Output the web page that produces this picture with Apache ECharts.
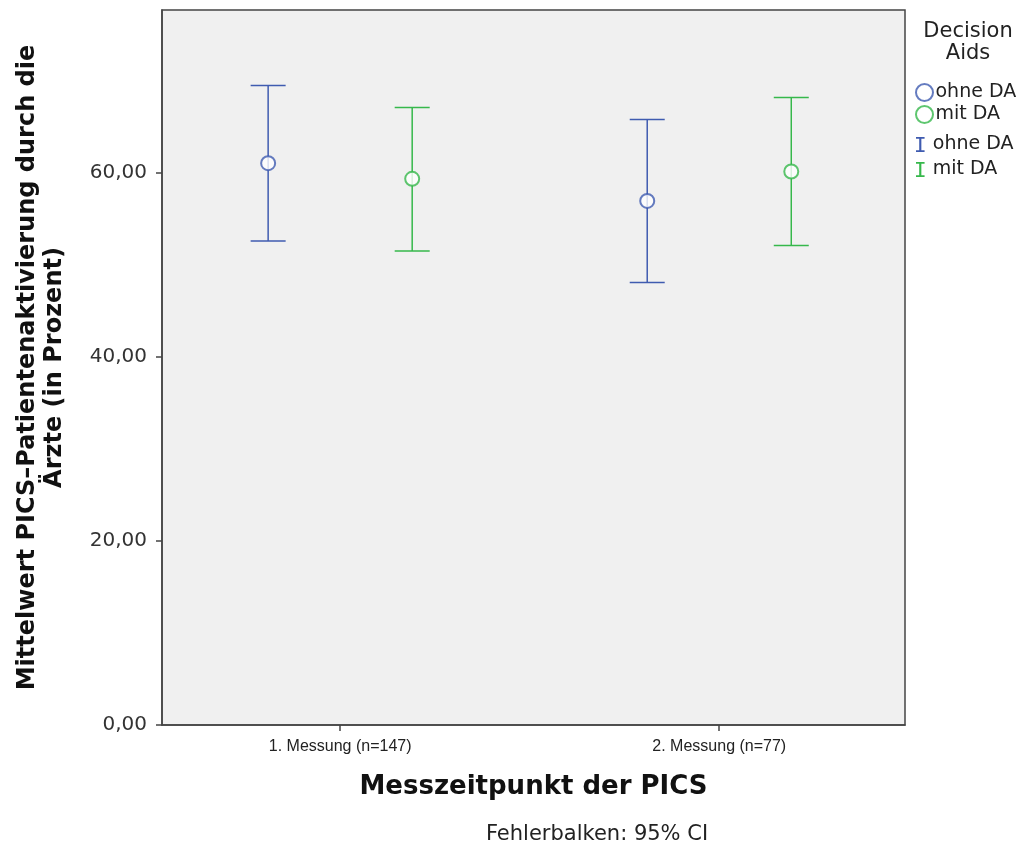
<!DOCTYPE html>
<html>
<head>
<meta charset="utf-8">
<script src="https://cdn.jsdelivr.net/npm/echarts@6/dist/echarts.min.js"></script>
<style>html,body{margin:0;padding:0;background:#fff;}#c{width:1029px;height:854px;}</style>
</head>
<body>
<div id="c"></div>
<script>
const categories = ['1. Messung (n=147)', '2. Messung (n=77)'];
const groupNames = ['ohne DA', 'mit DA'];
const meanOhne = [61.05, 56.95];
const lowOhne = [52.6, 48.1];
const highOhne = [69.5, 65.8];
const meanMit = [59.35, 60.15];
const lowMit = [51.5, 52.1];
const highMit = [67.1, 68.2];
const yTicks = [0, 20, 40, 60];

const colors = ['#3F5BB0', '#36B84B'];
const offsets = [-0.19, 0.19];

const chart = echarts.init(document.getElementById('c'));
const FONT = 'DejaVu Sans';

function ciSeries(idx, lows, highs) {
  return {
    type: 'custom',
    name: groupNames[idx] + ' (CI)',
    z: 2,
    data: categories.map((c, i) => [i + 1, lows[i], highs[i]]),
    renderItem: function (params, api) {
      const x = api.value(0) + offsets[idx];
      const lo = api.coord([x, api.value(1)]);
      const hi = api.coord([x, api.value(2)]);
      const hw = 17.5;
      const st = { stroke: colors[idx], lineWidth: 1.5 };
      return {
        type: 'group',
        children: [
          { type: 'line', shape: { x1: lo[0], y1: lo[1], x2: hi[0], y2: hi[1] }, style: st },
          { type: 'line', shape: { x1: hi[0] - hw, y1: hi[1], x2: hi[0] + hw, y2: hi[1] }, style: st },
          { type: 'line', shape: { x1: lo[0] - hw, y1: lo[1], x2: lo[0] + hw, y2: lo[1] }, style: st }
        ]
      };
    },
    itemStyle: { color: colors[idx] }
  };
}

function meanSeries(idx, means) {
  return {
    type: 'scatter',
    name: groupNames[idx],
    z: 3,
    symbol: 'emptyCircle',
    symbolSize: 14,
    itemStyle: { color: colors[idx], borderColor: colors[idx], borderWidth: 1.5 },
    data: means.map((m, i) => [i + 1 + offsets[idx], m])
  };
}

const iconI = 'path://M0,0H8V1.6H5V12.4H8V14H0V12.4H3V1.6H0Z';

chart.setOption({
  animation: false,
  backgroundColor: '#ffffff',
  grid: {
    left: 162, right: 124, top: 10, bottom: 129,
    show: true, backgroundColor: '#F0F0F0', borderColor: '#444', borderWidth: 1.5
  },
  xAxis: {
    type: 'value',
    min: 0.53, max: 2.49,
    splitLine: { show: false },
    axisLine: { show: true, onZero: false, lineStyle: { color: '#444', width: 1.5 } },
    axisTick: { show: true, customValues: [1, 2], length: 6, lineStyle: { color: '#444', width: 1.5 } },
    axisLabel: {
      customValues: [1, 2],
      formatter: v => categories[Math.round(v) - 1],
      color: '#222', fontFamily: 'Liberation Sans', fontSize: 16, margin: 14
    },
    name: 'Messzeitpunkt der PICS',
    nameLocation: 'middle',
    nameGap: 49,
    nameTextStyle: { fontFamily: FONT, fontWeight: 'bold', fontSize: 26, color: '#111' }
  },
  yAxis: {
    type: 'value',
    min: 0, max: 77.7,
    splitLine: { show: false },
    axisLine: { show: true, lineStyle: { color: '#444', width: 1.5 } },
    axisTick: { show: true, customValues: yTicks, length: 6, lineStyle: { color: '#444', width: 1.5 } },
    axisLabel: {
      customValues: yTicks,
      formatter: v => v.toFixed(2).replace('.', ','),
      color: '#333', fontFamily: FONT, fontSize: 20, margin: 15
    },
    name: 'Mittelwert PICS–Patientenaktivierung durch die\nÄrzte (in Prozent)',
    nameLocation: 'middle',
    nameGap: 94,
    nameTextStyle: { fontFamily: FONT, fontWeight: 'bold', fontSize: 24, color: '#111', lineHeight: 27 }
  },
  legend: [
    {
      left: 910, top: 78, orient: 'vertical',
      itemWidth: 18, itemHeight: 17, itemGap: 3,
      data: groupNames,
      textStyle: { fontFamily: FONT, fontSize: 19, color: '#222', padding: [0, 0, 0, -3] }
    },
    {
      left: 911, top: 130, orient: 'vertical',
      itemWidth: 9, itemHeight: 15, itemGap: 6,
      data: groupNames.map((n, i) => ({ name: n + ' (CI)', icon: iconI })),
      formatter: n => n.replace(' (CI)', ''),
      textStyle: { fontFamily: FONT, fontSize: 19, color: '#222', padding: [0, 0, 0, 3] }
    }
  ],
  graphic: [
    {
      type: 'text', x: 968, y: 21,
      style: { text: 'Decision\nAids', align: 'center', fontFamily: FONT, fontSize: 21, lineHeight: 22, fill: '#222' }
    },
    {
      type: 'text', x: 597, y: 824,
      style: { text: 'Fehlerbalken: 95% CI', align: 'center', fontFamily: FONT, fontSize: 21, fill: '#222' }
    }
  ],
  series: [
    ciSeries(0, lowOhne, highOhne),
    ciSeries(1, lowMit, highMit),
    meanSeries(0, meanOhne),
    meanSeries(1, meanMit)
  ]
});
</script>
</body>
</html>
